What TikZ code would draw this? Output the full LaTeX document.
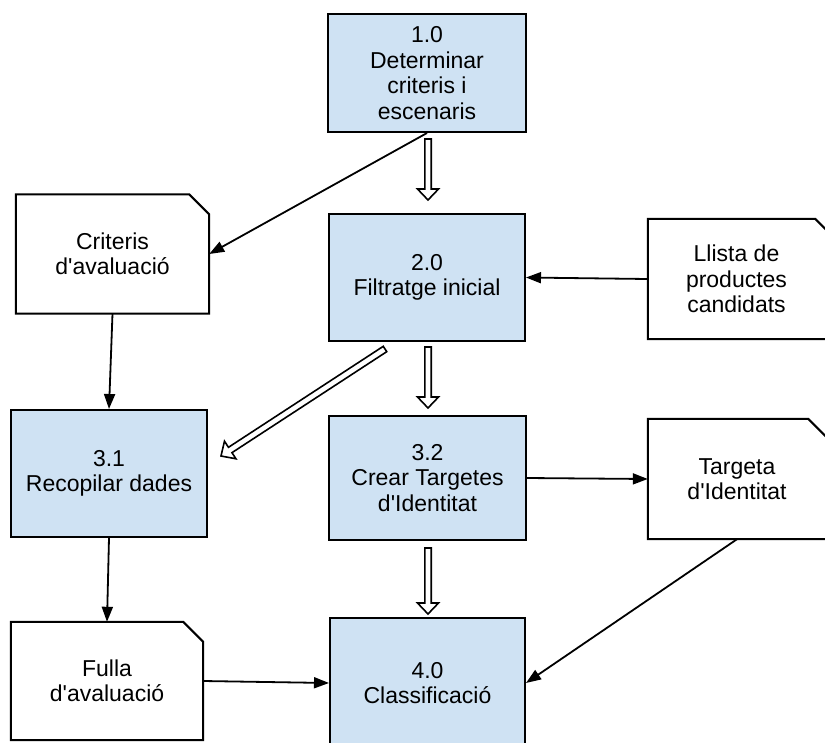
\documentclass[tikz,border=0pt]{standalone}
\usepackage{fontspec}
\setmainfont{Liberation Sans}
\usetikzlibrary{arrows.meta,calc}
\definecolor{procblue}{HTML}{CFE2F3}
\newcommand\apos{\textquotesingle}
\tikzset{
  txt/.style={font=\fontsize{23}{25.5}\selectfont, align=center, inner sep=0pt},
  proc/.style={txt, draw=black, line width=2pt, fill=procblue},
  docnode/.style={txt},
  docline/.style={draw=black, line width=2pt, line join=miter},
  flow/.style={line width=1.8pt, -{Triangle[length=15pt,width=11pt]}},
  hollowarr/.style={draw=black, line width=1.6pt, fill=white, line join=miter},
}
\newcommand\docoutline[3]{%
  \draw[docline] (#1.south west) -- (#1.north west)
    -- ($(#1.north east)+(#3-#2,0)$) -- ($(#1.north east)+(#3,#2)$)
    -- ($(#1.south east)+(#3,0)$) -- cycle;}
\newcommand\hollowarrow[2]{%
  \coordinate (#1-#2-c) at ($(#2)!11pt!(#1)$);
  \draw[hollowarr] ($(#1)!3.2pt!90:(#2)$) -- ($(#1-#2-c)!3.2pt!90:(#2)$)
    -- ($(#1-#2-c)!10.5pt!90:(#2)$) -- (#2)
    -- ($(#1-#2-c)!10.5pt!-90:(#2)$) -- ($(#1-#2-c)!3.2pt!-90:(#2)$)
    -- ($(#1)!3.2pt!-90:(#2)$) -- cycle;}
\begin{document}
\begin{tikzpicture}[x=1pt,y=-1pt]
\useasboundingbox (0,0) rectangle (825,742);
\clip (0,0) rectangle (825,742);
\fill[white] (0,0) rectangle (825,742);

% process boxes
\node[proc, minimum width=198pt, minimum height=118pt] (p1) at (427,73) {1.0\\Determinar\\criteris i\\escenaris};
\node[proc, minimum width=196pt, minimum height=127pt] (p2) at (427,277.5) {2.0\\Filtratge inicial};
\node[proc, minimum width=197pt, minimum height=124pt] (p32) at (427.5,478) {3.2\\Crear Targetes\\d\apos Identitat};
\node[proc, minimum width=196pt, minimum height=127pt] (p31) at (109,473.5) {3.1\\Recopilar dades};
\node[proc, minimum width=195pt, minimum height=130pt] (p4) at (427.5,683) {4.0\\Classificació};

% document shapes
\node[docnode, minimum width=193pt, minimum height=119pt] (d1) at (112.5,254) {Criteris\\d\apos avaluació};
\node[docnode, minimum width=177pt, minimum height=120pt] (d2) at (736.5,279) {Llista de\\productes\\candidats};
\node[docnode, minimum width=178pt, minimum height=120pt] (d3) at (737,479) {Targeta\\d\apos Identitat};
\node[docnode, minimum width=192pt, minimum height=118pt] (d4) at (107,681) {Fulla\\d\apos avaluació};
\docoutline{d1}{20}{0}
\docoutline{d2}{20}{10}
\docoutline{d3}{18}{0}
\docoutline{d4}{20}{0}

% solid connectors
\draw[flow] (p1.south) -- (d1.east);
\draw[flow] (d2.west) -- (p2.east);
\draw[flow] (d1.south) -- (p31.north);
\draw[flow] (p32.east) -- (d3.west);
\draw[flow] (p31.south) -- (d4.north);
\draw[flow] (d4.east) -- (p4.west);
\draw[flow] (d3.south) -- (p4.east);

% hollow arrows
\coordinate (h1s) at ($(p1.south)+(1,6)$);
\coordinate (h1e) at ($(p2.north)+(1,-13)$);
\coordinate (h2s) at ($(p2.south)+(1,5)$);
\coordinate (h2e) at ($(p32.north)+(0.5,-7)$);
\coordinate (h3s) at ($(p32.south)+(0.5,7)$);
\coordinate (h3e) at ($(p4.north)+(0.5,-3)$);
\coordinate (h4s) at (385,349);
\coordinate (h4e) at (221,456);
\hollowarrow{h1s}{h1e}
\hollowarrow{h2s}{h2e}
\hollowarrow{h3s}{h3e}
\hollowarrow{h4s}{h4e}
\end{tikzpicture}
\end{document}
